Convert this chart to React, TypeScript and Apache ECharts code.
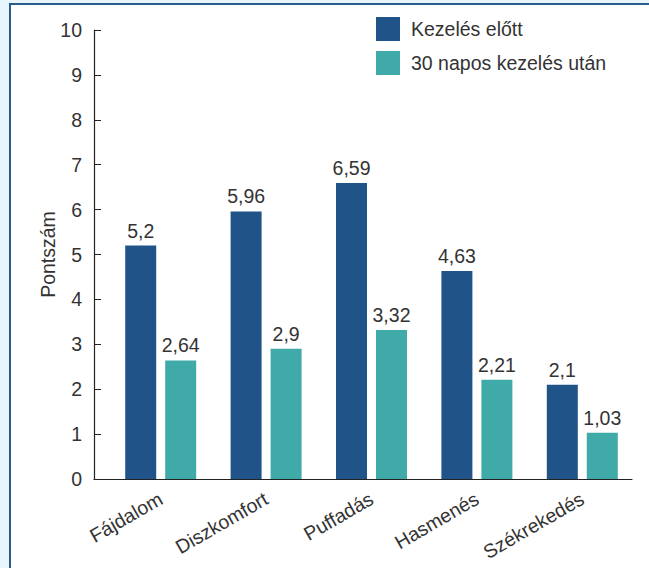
import React, { useEffect, useRef } from "react";
import * as echarts from "echarts";

const categories = ["Fájdalom", "Diszkomfort", "Puffadás", "Hasmenés", "Székrekedés"];
const beforeValues = [5.2, 5.96, 6.59, 4.63, 2.1];
const afterValues = [2.64, 2.9, 3.32, 2.21, 1.03];
const seriesNames = ["Kezelés előtt", "30 napos kezelés után"];
const yMin = 0;
const yMax = 10;
const yInterval = 1;

const FONT = "'Liberation Sans', Arial, sans-serif";
const TXT = "#333333";
const FS = 19.5;

export default function App() {
  const ref = useRef<HTMLDivElement>(null);
  useEffect(() => {
    if (!ref.current) return;
    const chart = echarts.init(ref.current, null, { renderer: "svg" });
    const fmt = (p: any) => String(p.value).replace(".", ",");
    chart.setOption({
      animation: false,
      backgroundColor: "#e9f5fc",
      textStyle: { fontFamily: FONT },
      graphic: [
        {
          type: "rect",
          z: -10,
          shape: { x: 10, y: 4, width: 700, height: 620 },
          style: { fill: "#ffffff", stroke: "#2a5b8c", lineWidth: 2 },
        },
      ],
      legend: {
        orient: "vertical",
        left: 376,
        top: 17,
        padding: 0,
        itemWidth: 24,
        itemHeight: 24,
        itemGap: 10,
        icon: "rect",
        textStyle: { fontSize: FS, color: TXT, fontFamily: FONT, padding: [0, 0, 0, 6] },
        data: seriesNames,
      },
      grid: [
        { left: 108, width: 527, top: 30, height: 449 },
        { left: 94, width: 538, top: 30, height: 449 },
      ],
      xAxis: [
        {
          type: "category",
          gridIndex: 0,
          data: categories,
          axisLine: { show: false },
          axisTick: { show: false },
          axisLabel: {
            rotate: 30,
            fontSize: FS,
            color: TXT,
            fontFamily: FONT,
            margin: 18,
          },
        },
        {
          type: "value",
          gridIndex: 1,
          min: 0,
          max: 1,
          axisLine: { show: true, lineStyle: { color: "#222", width: 1.2 } },
          axisTick: { show: false },
          axisLabel: { show: false },
          splitLine: { show: false },
        },
      ],
      yAxis: [
        {
          type: "value",
          gridIndex: 0,
          min: yMin,
          max: yMax,
          interval: yInterval,
          show: false,
        },
        {
          type: "value",
          gridIndex: 1,
          min: yMin,
          max: yMax,
          interval: yInterval,
          name: "Pontszám",
          nameLocation: "middle",
          nameGap: 36,
          nameMoveOverlap: false,
          nameTextStyle: { fontSize: FS, color: TXT, fontFamily: FONT },
          axisLine: { show: true, lineStyle: { color: "#222", width: 1.2 } },
          axisTick: { show: true, inside: true, length: 7, lineStyle: { color: "#222" } },
          axisLabel: { fontSize: FS, color: TXT, fontFamily: FONT, margin: 12 },
          splitLine: { show: false },
        },
      ],
      series: [
        {
          name: seriesNames[0],
          type: "bar",
          xAxisIndex: 0,
          yAxisIndex: 0,
          data: beforeValues,
          barWidth: 31,
          barGap: "29%",
          itemStyle: { color: "#205488" },
          label: { show: true, position: "top", distance: 5, fontSize: FS, color: TXT, fontFamily: FONT, formatter: fmt },
        },
        {
          name: seriesNames[1],
          type: "bar",
          xAxisIndex: 0,
          yAxisIndex: 0,
          data: afterValues,
          barWidth: 31,
          barGap: "29%",
          itemStyle: { color: "#3faaa8" },
          label: { show: true, position: "top", distance: 5, fontSize: FS, color: TXT, fontFamily: FONT, formatter: fmt },
        },
      ],
    });
    return () => chart.dispose();
  }, []);
  return (
    <div
      ref={ref}
      style={{ position: "fixed", left: 0, top: 0, width: 649, height: 568 }}
    />
  );
}
